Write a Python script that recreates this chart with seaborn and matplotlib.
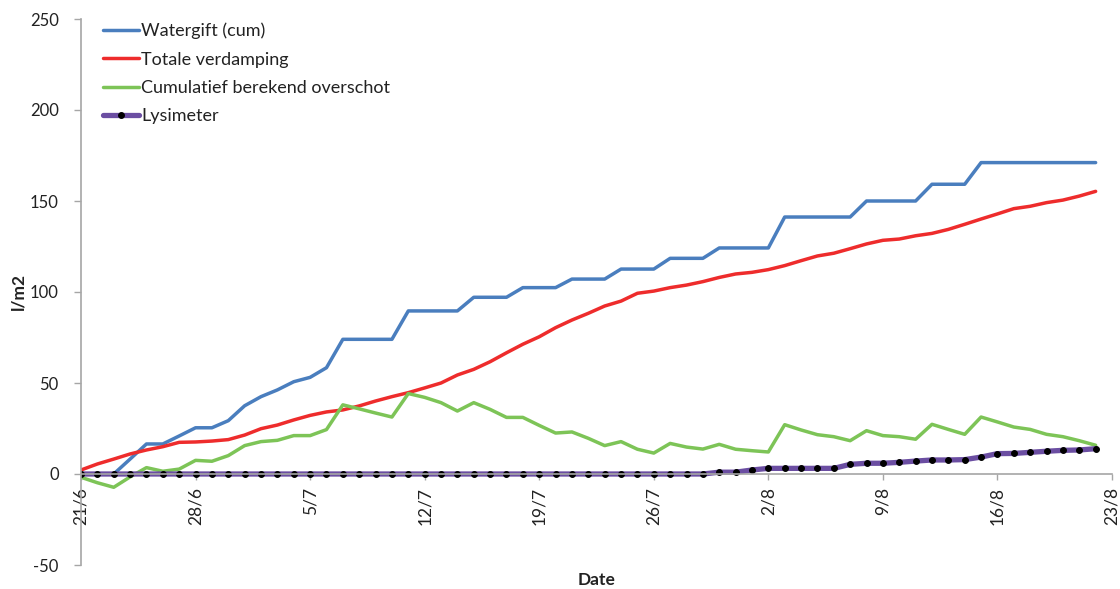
import matplotlib
matplotlib.use("Agg")
import matplotlib.pyplot as plt
import numpy as np
import pandas as pd
import seaborn as sns

# Daily values from 21/6 (day 0) to 22/8 (day 62), in l/m2
watergift = [0, 0, 0, 8.2, 16.5, 16.5, 20.9, 25.4, 25.4, 29.3,
             37.5, 42.5, 46.2, 50.7, 53.1, 58.4, 74.0, 74.0, 74.0, 74.0,
             89.6, 89.6, 89.6, 89.6, 97.1, 97.1, 97.1, 102.4, 102.4, 102.4,
             107.1, 107.1, 107.1, 112.6, 112.6, 112.6, 118.5, 118.5, 118.5, 124.2,
             124.2, 124.2, 124.2, 141.2, 141.2, 141.2, 141.2, 141.2, 150.0, 150.0,
             150.0, 150.0, 159.2, 159.2, 159.2, 171.1, 171.1, 171.1, 171.1, 171.1,
             171.1, 171.1, 171.1]
verdamping = [2.2, 5.5, 8.2, 11.0, 13.2, 15.0, 17.4, 17.6, 18.1, 18.9,
              21.4, 24.9, 26.9, 29.7, 32.2, 34.1, 35.2, 37.4, 40.1, 42.5,
              44.7, 47.3, 50.0, 54.4, 57.5, 61.7, 66.6, 71.3, 75.4, 80.4,
              84.6, 88.3, 92.3, 95.0, 99.3, 100.5, 102.4, 103.8, 105.7, 108.0,
              109.9, 110.8, 112.3, 114.5, 117.2, 119.8, 121.3, 123.8, 126.4, 128.4,
              129.1, 130.9, 132.2, 134.4, 137.2, 140.1, 142.9, 145.8, 147.1, 149.1,
              150.5, 152.7, 155.3]
overschot = [-1.8, -4.8, -7.3, -1.6, 3.5, 1.5, 2.7, 7.5, 7.0, 10.1,
             15.6, 17.8, 18.5, 21.1, 21.1, 24.4, 38.0, 35.8, 33.5, 31.3,
             44.2, 42.1, 39.2, 34.6, 39.2, 35.5, 31.1, 31.1, 26.7, 22.5,
             23.1, 19.6, 15.6, 17.8, 13.6, 11.5, 16.8, 14.8, 13.7, 16.3,
             13.6, 12.8, 12.1, 27.1, 24.2, 21.6, 20.5, 18.3, 23.8, 21.1,
             20.5, 19.1, 27.3, 24.5, 21.8, 31.3, 28.6, 25.8, 24.5, 21.8,
             20.5, 18.3, 15.8]
lysimeter = [0] * 39 + [1.0, 1.0, 2.2, 3.1, 3.1, 3.1, 3.1, 3.1, 5.3, 5.9,
                        5.9, 6.4, 7.1, 7.7, 7.7, 7.9, 9.3, 11.2, 11.3, 11.9,
                        12.5, 13.0, 13.2, 13.9]

tick_days = [0, 7, 14, 21, 28, 35, 42, 49, 56, 63]
tick_labels = ["21/6", "28/6", "5/7", "12/7", "19/7", "26/7", "2/8", "9/8", "16/8", "23/8"]

series_names = ["Watergift (cum)", "Totale verdamping",
                "Cumulatief berekend overschot", "Lysimeter"]
days = np.arange(len(watergift))

sns.set_theme(style="white")
plt.rcParams["font.family"] = ["Lato", "DejaVu Sans"]
plt.rcParams["axes.unicode_minus"] = False

fig = plt.figure(figsize=(11.2, 5.89), dpi=100)
ax = fig.add_axes([81 / 1120, 24 / 589, 1031 / 1120, 546 / 589])

sns.lineplot(x=days, y=watergift, ax=ax, color="#4A7EBE", lw=2.5, label=series_names[0])
sns.lineplot(x=days, y=verdamping, ax=ax, color="#EE2C2C", lw=2.5, label=series_names[1])
sns.lineplot(x=days, y=overschot, ax=ax, color="#7DC457", lw=2.5, label=series_names[2])
sns.lineplot(x=days, y=lysimeter, ax=ax, color="#6B4EA2", lw=3.8, marker="o",
             markersize=4.2, markerfacecolor="black", markeredgecolor="black",
             label=series_names[3])

ax.set_xlim(0, 63)
ax.set_ylim(-50, 250)
ax.set_yticks(np.arange(-50, 251, 50))
ax.set_xticks(tick_days)
ax.set_xticklabels(tick_labels)

axis_grey = "#A6A6A6"
for side in ("top", "right"):
    ax.spines[side].set_visible(False)
ax.spines["left"].set_color(axis_grey)
ax.spines["left"].set_linewidth(1.2)
ax.spines["bottom"].set_color(axis_grey)
ax.spines["bottom"].set_linewidth(1.2)
ax.spines["bottom"].set_position(("data", 0))

ax.tick_params(axis="y", direction="out", length=5, width=1, color=axis_grey,
               pad=11, labelsize=12, labelcolor="#222222", left=True)
ax.tick_params(axis="x", direction="out", length=4.5, width=1, color=axis_grey,
               pad=5, labelsize=12.5, labelcolor="#222222", bottom=True,
               labelrotation=90)
ax.grid(False)

ax.set_xlabel("Date", fontsize=12.5, fontweight="bold", color="#222222")
ax.set_ylabel("l/m2", fontsize=12.5, fontweight="bold", color="#222222")
ax.xaxis.set_label_coords(0.5, -0.012)
ax.yaxis.set_label_coords(-0.053, 0.5)

leg = ax.legend(loc="upper left", bbox_to_anchor=(0.0213, 0.993), frameon=False,
                fontsize=13, handlelength=2.0, handletextpad=0.12,
                labelspacing=0.68, borderpad=0, borderaxespad=0)
for t in leg.get_texts():
    t.set_color("#222222")

fig.savefig("out.png", dpi=100)
